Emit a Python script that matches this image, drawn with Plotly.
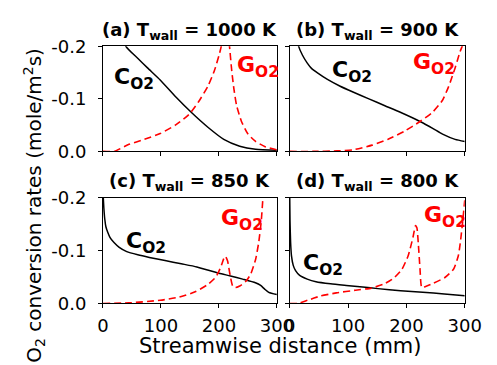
import plotly.graph_objects as go

# Streamwise distance (mm) vs O2 conversion rates (mole/m^2 s)
# C = consumption (black), G = generation (red dashed)

# (a) T_wall = 1000 K
a_c_x = [30, 39.5, 60.3, 76.8, 98.7, 126.2, 153.6, 181.0, 208.4, 235.9, 263.3, 300]
a_c_y = [-0.24, -0.200, -0.177, -0.159, -0.136, -0.103, -0.073, -0.046, -0.023, -0.010, -0.004, -0.002]
a_g_x = [0, 19, 43.9, 71.3, 98.7, 126.2, 148.1, 164.6, 181.0, 192.0, 200.2, 204.0, 207.0, 211.0,
         215.0, 218.3, 222.2, 226.0, 230.4, 238.6, 249.6, 263.3, 279.8, 300]
a_g_y = [0, 0, -0.013, -0.023, -0.034, -0.051, -0.070, -0.094, -0.124, -0.153, -0.183, -0.200, -0.230, -0.260,
         -0.230, -0.200, -0.153, -0.118, -0.088, -0.058, -0.034, -0.019, -0.009, -0.003]

# (b) T_wall = 900 K
b_c_x = [13.7, 15.3, 21.9, 30.1, 37.3, 48.2, 64.6, 86.5, 108.4, 135.7, 163.1, 190.5, 223.3, 245, 262, 283.5, 300]
b_c_y = [-0.213, -0.200, -0.183, -0.168, -0.158, -0.149, -0.137, -0.124, -0.113, -0.100, -0.087, -0.074,
         -0.057, -0.044, -0.033, -0.023, -0.019]
b_g_x = [0, 40, 81, 108.4, 141.2, 168.6, 196, 223.3, 245.2, 261.6, 272.6, 283.5, 291.7, 295.6, 300]
b_g_y = [0, 0, -0.001, -0.003, -0.012, -0.023, -0.038, -0.057, -0.075, -0.097, -0.124, -0.159, -0.189, -0.200, -0.215]

# (c) T_wall = 850 K
c_c_x = [0.5, 1.5, 3, 5, 8, 12, 19, 28, 41, 60, 80, 107, 135, 162, 200, 220, 241, 263, 272, 279, 286, 300]
c_c_y = [-0.200, -0.180, -0.160, -0.145, -0.135, -0.125, -0.115, -0.106, -0.098, -0.092, -0.087, -0.081,
         -0.075, -0.069, -0.057, -0.052, -0.046, -0.039, -0.034, -0.027, -0.021, -0.017]
c_g_x = [0, 43.9, 98.7, 131.7, 159, 181, 194.8, 203, 208.5, 211.2, 215, 219.4, 223.8, 228.7, 235.9,
         246.8, 255.1, 263.3, 268.8, 273.2, 276, 277.5]
c_g_y = [0, -0.001, -0.006, -0.012, -0.022, -0.036, -0.050, -0.068, -0.085, -0.089, -0.080, -0.053, -0.033,
         -0.030, -0.033, -0.042, -0.056, -0.083, -0.116, -0.157, -0.200, -0.220]

# (d) T_wall = 800 K
d_c_x = [0, 0.5, 1.5, 3, 6, 10, 17, 30, 45, 70, 97, 125, 151, 190, 228, 265, 300]
d_c_y = [-0.200, -0.155, -0.115, -0.090, -0.072, -0.062, -0.053, -0.046, -0.041, -0.037, -0.034, -0.031,
         -0.028, -0.024, -0.021, -0.018, -0.0145]
d_g_x = [0, 14, 30.7, 52.5, 79.9, 112.8, 140, 162, 178.4, 192.1, 203, 211.3, 215.6, 218, 220.6, 223.3,
         226.3, 233, 246, 266, 281, 289, 293, 296.5, 300]
d_g_y = [0, 0, -0.006, -0.014, -0.020, -0.025, -0.029, -0.037, -0.048, -0.064, -0.090, -0.125, -0.147,
         -0.143, -0.110, -0.066, -0.030, -0.032, -0.038, -0.049, -0.065, -0.090, -0.120, -0.155, -0.195]

panel_titles = ["(a) T<sub>wall</sub> = 1000 K", "(b) T<sub>wall</sub> = 900 K",
                "(c) T<sub>wall</sub> = 850 K", "(d) T<sub>wall</sub> = 800 K"]
x_ticks = [0, 100, 200, 300]
y_ticks = [-0.2, -0.1, 0.0]
y_tick_text = ["-0.2", "-0.1", "0.0"]

# label anchors (x in mm, y in rate units) for C_O2 and G_O2 per panel
c_label_pos = [(16, -0.138), (69.5, -0.152), (35.6, -0.116), (18.5, -0.073)]
g_label_pos = [(227.6, -0.162), (208.7, -0.168), (201, -0.158), (226, -0.164)]

FONT = "DejaVu Sans"
RED = "#ff0000"
W, H = 497, 365

# subplot frames in pixels: (left, right, top, bottom)
frames = [(101.7, 284, 37.5, 149), (297.5, 481, 37.5, 149),
          (101.7, 284, 198, 310.3), (297.5, 481, 198, 310.3)]

series = [(a_c_x, a_c_y, a_g_x, a_g_y), (b_c_x, b_c_y, b_g_x, b_g_y),
          (c_c_x, c_c_y, c_g_x, c_g_y), (d_c_x, d_c_y, d_g_x, d_g_y)]

fig = go.Figure()
annotations = []
for i, (cx, cy, gx, gy) in enumerate(series):
    xa = "x" if i == 0 else f"x{i + 1}"
    ya = "y" if i == 0 else f"y{i + 1}"
    fig.add_trace(go.Scatter(x=cx, y=cy, xaxis=xa, yaxis=ya, mode="lines",
                             line=dict(color="black", width=1.5, shape="spline", smoothing=0.6),
                             showlegend=False, hoverinfo="skip"))
    fig.add_trace(go.Scatter(x=gx, y=gy, xaxis=xa, yaxis=ya, mode="lines",
                             line=dict(color=RED, width=1.6, dash="7px,4px", shape="spline", smoothing=0.5),
                             showlegend=False, hoverinfo="skip"))

    l, r, t, b = frames[i]
    bottom_row = i >= 2
    left_col = i % 2 == 0
    fig.layout[("xaxis" if i == 0 else f"xaxis{i + 1}")] = dict(
        domain=[l / W, r / W], anchor=ya, range=[0, 300], tickvals=x_ticks,
        showticklabels=bottom_row, ticks="outside", ticklen=4, tickwidth=1, tickcolor="black",
        ticklabelstandoff=2,
        showline=True, linecolor="black", linewidth=1, mirror=True, showgrid=False, zeroline=False,
        tickfont=dict(family=FONT, size=18, color="black"))
    fig.layout[("yaxis" if i == 0 else f"yaxis{i + 1}")] = dict(
        domain=[1 - b / H, 1 - t / H], anchor=xa, range=[0, -0.2], tickvals=y_ticks, ticktext=y_tick_text,
        showticklabels=left_col, ticks="outside", ticklen=4, tickwidth=1, tickcolor="black",
        ticklabelstandoff=8,
        showline=True, linecolor="black", linewidth=1, mirror=True, showgrid=False, zeroline=False,
        tickfont=dict(family=FONT, size=18, color="black"))

    annotations.append(dict(text=f"<b>{panel_titles[i]}</b>", xref="paper", yref="paper",
                            x=(l + r) / 2 / W, y=1 - (t - 16.5) / H, xanchor="center", yanchor="middle",
                            showarrow=False, font=dict(family=FONT, size=18, color="black")))
    cxp, cyp = c_label_pos[i]
    annotations.append(dict(text="<b>C<sub>O2</sub></b>", xref=xa, yref=ya, x=cxp, y=cyp,
                            xanchor="left", yanchor="middle", showarrow=False,
                            font=dict(family=FONT, size=22, color="black")))
    gxp, gyp = g_label_pos[i]
    annotations.append(dict(text="<b>G<sub>O2</sub></b>", xref=xa, yref=ya, x=gxp, y=gyp,
                            xanchor="left", yanchor="middle", showarrow=False,
                            font=dict(family=FONT, size=22, color=RED)))

annotations.append(dict(text="Streamwise distance (mm)", xref="paper", yref="paper",
                        x=288 / W, y=1 - 355.5 / H, xanchor="center", yanchor="middle", showarrow=False,
                        font=dict(family=FONT, size=21, color="black")))
annotations.append(dict(text="O<sub>2</sub> conversion rates (mole/m<sup>2</sup>s)", xref="paper", yref="paper",
                        x=29 / W, y=1 - 206 / H, xanchor="center", yanchor="middle", textangle=-90,
                        showarrow=False, font=dict(family=FONT, size=20, color="black")))

fig.update_layout(width=W, height=H, autosize=False, margin=dict(l=0, r=0, t=0, b=0),
                  paper_bgcolor="white", plot_bgcolor="white", annotations=annotations,
                  showlegend=False)

fig.write_html("out.html")
